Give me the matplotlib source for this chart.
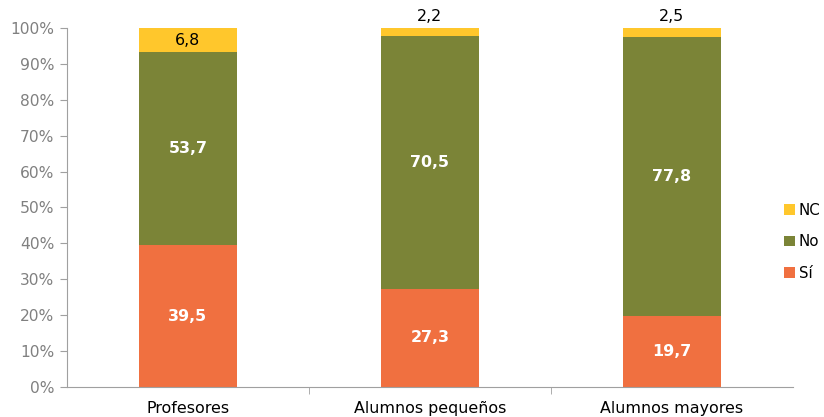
import matplotlib.pyplot as plt
import numpy as np

categorias = ["Profesores", "Alumnos pequeños", "Alumnos mayores"]
si = [39.5, 27.3, 19.7]
no = [53.7, 70.5, 77.8]
nc = [6.8, 2.2, 2.5]

c_si = "#F07040"
c_no = "#7B8437"
c_nc = "#FFC72C"

fs = 11.4

fig = plt.figure(figsize=(8.24, 4.17), dpi=100)
ax = fig.add_axes([0.0813, 0.072, 0.881, 0.861])

x = np.arange(len(categorias))
w = 0.405
ax.bar(x, si, w, color=c_si, label="Sí")
ax.bar(x, no, w, bottom=si, color=c_no, label="No")
base = np.array(si) + np.array(no)
ax.bar(x, nc, w, bottom=base, color=c_nc, label="NC")

def fmt(v):
    return f"{v:.1f}".replace(".", ",")

for i in range(len(x)):
    ax.text(x[i], si[i] / 2, fmt(si[i]), ha="center", va="center",
            color="white", fontweight="bold", fontsize=fs)
    ax.text(x[i], si[i] + no[i] / 2, fmt(no[i]), ha="center", va="center",
            color="white", fontweight="bold", fontsize=fs)
    if nc[i] > 5:
        ax.text(x[i], base[i] + nc[i] / 2, fmt(nc[i]), ha="center", va="center",
                color="black", fontsize=fs)
    else:
        ax.text(x[i], 100 + 1.2, fmt(nc[i]), ha="center", va="bottom",
                color="black", fontsize=fs, clip_on=False)

ax.set_xlim(-0.5, 2.5)
ax.set_ylim(0, 100)
ax.set_yticks(np.arange(0, 101, 10))
ax.set_yticklabels([f"{v}%" for v in range(0, 101, 10)], color="#808080", fontsize=11.2)
ax.set_xticks(x)
ax.set_xticklabels(categorias, fontsize=fs)
ax.set_xticks([0.5, 1.5], minor=True)
ax.tick_params(axis="x", which="major", length=0, pad=10)
ax.tick_params(axis="x", which="minor", length=5, color="#A0A0A0")
ax.tick_params(axis="y", length=5, color="#A0A0A0", pad=4)

for s in ["top", "right"]:
    ax.spines[s].set_visible(False)
for s in ["left", "bottom"]:
    ax.spines[s].set_color("#A0A0A0")

h, l = ax.get_legend_handles_labels()
leg = ax.legend(h[::-1], l[::-1], loc="center left", bbox_to_anchor=(0.980, 0.404),
                frameon=False, fontsize=10.8, handlelength=0.7, handleheight=0.7,
                labelspacing=1.1, handletextpad=0.25, borderaxespad=0)

fig.savefig("out.png", dpi=100)
